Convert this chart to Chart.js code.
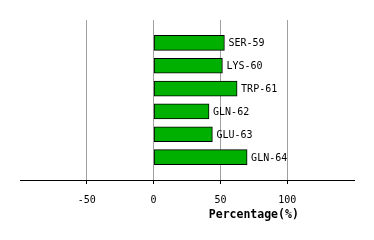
<!DOCTYPE html>
<html><head><meta charset="utf-8">
<script src="https://cdn.jsdelivr.net/npm/chart.js@4/dist/chart.umd.min.js"></script>
<style>html,body{margin:0;padding:0;background:#fff}#wrap{width:374px;height:240px}</style>
</head><body><div id="wrap"><canvas id="c" width="374" height="240"></canvas></div>
<script>
const categories = ['SER-59','LYS-60','TRP-61','GLN-62','GLU-63','GLN-64'];
const values = [53, 51.5, 62.5, 41.5, 44, 70];
const tickValues = [-50, 0, 50, 100];
const axisTitle = 'Percentage(%)';

const barLabels = {
  id: 'barLabels',
  afterDatasetsDraw(chart) {
    const ctx = chart.ctx;
    const meta = chart.getDatasetMeta(0);
    ctx.save();
    ctx.font = '10px "DejaVu Sans Mono"';
    ctx.fillStyle = '#000';
    ctx.textBaseline = 'middle';
    ctx.textAlign = 'left';
    meta.data.forEach((el, i) => {
      ctx.fillText(categories[i], el.x + 4, el.y + 1);
    });
    const xs = chart.scales.x;
    ctx.font = 'bold 11.5px "DejaVu Sans Mono"';
    ctx.textAlign = 'center';
    ctx.fillText(axisTitle, xs.getPixelForValue(75), 215);
    ctx.restore();
  }
};

new Chart(document.getElementById('c'), {
  type: 'bar',
  data: {
    datasets: [{
      data: categories.map((c, i) => ({x: values[i], y: i + 1})),
      backgroundColor: '#00b000',
      borderColor: '#000',
      borderWidth: 1,
      borderSkipped: false,
      barThickness: 15
    }]
  },
  options: {
    indexAxis: 'y',
    responsive: false,
    animation: false,
    layout: {padding: {left: 20, right: 20, top: 20, bottom: 0}},
    plugins: {legend: {display: false}, tooltip: {enabled: false}},
    scales: {
      y: {type: 'linear', reverse: true, min: 0, max: 7, offset: false, display: false},
      x: {
        type: 'linear', min: -100, max: 150,
        afterFit(s) { s.height = 60; },
        afterBuildTicks(s) { s.ticks = [-100, ...tickValues, 150].map(v => ({value: v})); },
        border: {display: true, color: '#000', width: 1},
        grid: {
          color: c => tickValues.includes(c.tick && c.tick.value) ? '#a0a0a0' : 'rgba(0,0,0,0)',
          tickColor: c => tickValues.includes(c.tick && c.tick.value) ? '#000' : 'rgba(0,0,0,0)',
          tickLength: 4,
          lineWidth: 1
        },
        ticks: {
          autoSkip: false,
          maxRotation: 0,
          padding: 10,
          color: '#000',
          font: {family: '"DejaVu Sans Mono"', size: 10},
          callback: v => tickValues.includes(v) ? String(v) : ''
        }
      }
    }
  },
  plugins: [barLabels]
});
</script></body></html>
